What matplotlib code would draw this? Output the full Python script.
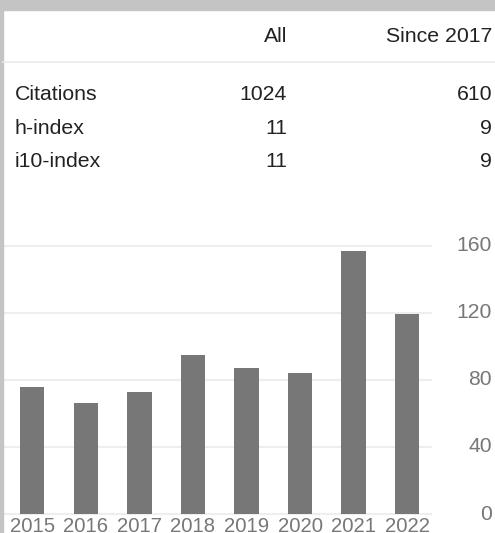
import matplotlib.pyplot as plt
import matplotlib.transforms as mtransforms

plt.rcParams['font.family'] = ['Liberation Sans', 'DejaVu Sans']

# citation table
col_heads = ['All', 'Since 2017']
row_names = ['Citations', 'h-index', 'i10-index']
all_vals = ['1024', '11', '11']
since_vals = ['610', '9', '9']

# citations per year
years = ['2015', '2016', '2017', '2018', '2019', '2020', '2021', '2022']
cites = [76, 66, 73, 95, 87, 84, 157, 119]
yticks = [0, 40, 80, 120, 160]

W, H = 495, 533
fig = plt.figure(figsize=(W / 100, H / 100), dpi=100)
fig.patch.set_facecolor('white')


def fx(px):
    return px / W


def fy(py):
    return 1 - py / H


# grey frame strips at top and left
fig.patches.append(plt.Rectangle((0, fy(10)), 1, 10 / H, transform=fig.transFigure,
                                 color='#c4c4c4', zorder=0))
fig.patches.append(plt.Rectangle((0, 0), fx(3), fy(10), transform=fig.transFigure,
                                 color='#c4c4c4', zorder=0))
fig.lines.append(plt.Line2D([fx(3), 1], [fy(61.5), fy(61.5)], transform=fig.transFigure,
                            color='#ebebeb', lw=1.2))

txt = dict(fontsize=15.3, color='#222222')
fig.text(fx(287), fy(42), col_heads[0], ha='right', va='baseline', **txt)
fig.text(fx(492), fy(42), col_heads[1], ha='right', va='baseline', **txt)
for i, name in enumerate(row_names):
    yb = fy(100 + i * 33.5)
    fig.text(fx(15), yb, name, ha='left', va='baseline', **txt)
    fig.text(fx(287), yb, all_vals[i], ha='right', va='baseline', **txt)
    fig.text(fx(492), yb, since_vals[i], ha='right', va='baseline', **txt)

# bar chart
zero_y = 514
px_per_unit = 67.1 / 40
ymax = 170
top_y = zero_y - ymax * px_per_unit
ax = fig.add_axes([fx(5.4), fy(zero_y), fx(434) - fx(5.4), (zero_y - top_y) / H])
ax.set_facecolor('none')
x = list(range(len(years)))
ax.bar(x, cites, width=0.455, color='#777777', zorder=2)
ax.set_xlim(-0.5, len(years) - 0.5)
ax.set_ylim(0, ymax)
for v in yticks:
    ax.axhline(v, xmin=-0.006, xmax=0.993, color='#eeeeee', lw=1.5, zorder=1, clip_on=False)
for s in ax.spines.values():
    s.set_visible(False)
ax.set_yticks([])
ax.set_xticks(x)
ax.set_xticklabels(years, fontsize=14.6, color='#777777')
ax.tick_params(axis='x', length=0, pad=2)

trans = mtransforms.blended_transform_factory(fig.transFigure, ax.transData)
for v in yticks:
    ax.text(fx(492), v, str(v), transform=trans, ha='right', va='center',
            fontsize=15.2, color='#777777')

fig.savefig('out.png', dpi=100)
